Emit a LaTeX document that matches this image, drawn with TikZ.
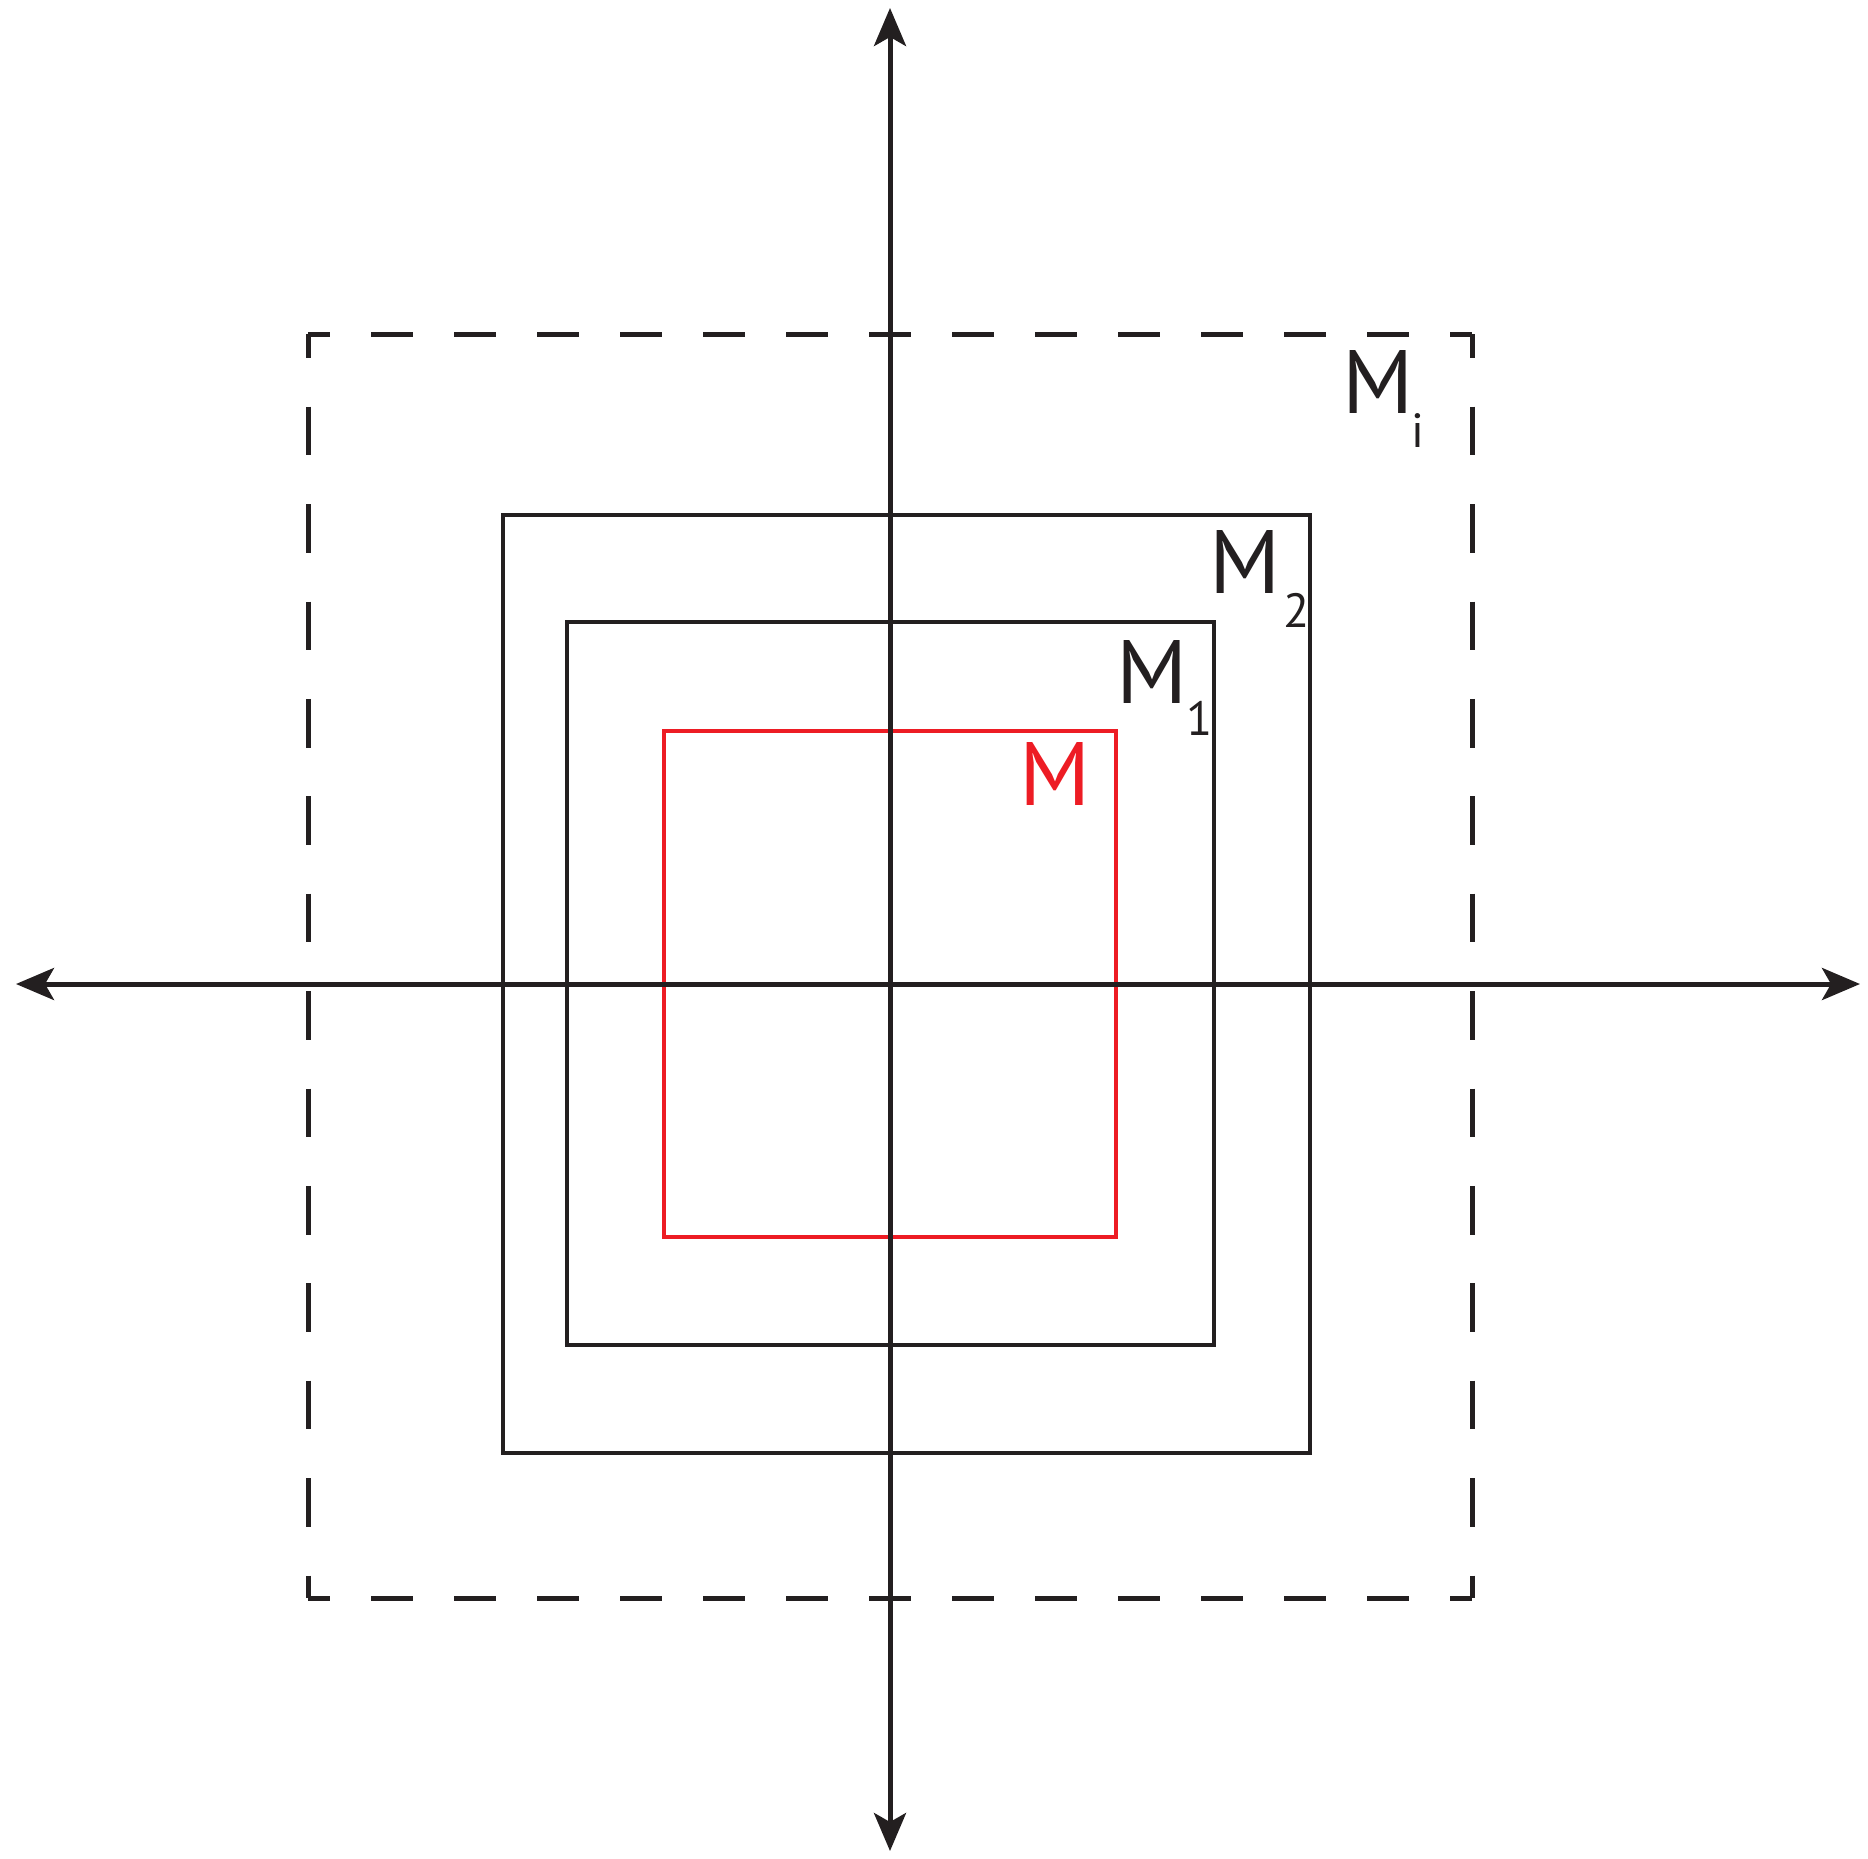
\documentclass[tikz,border=0pt]{standalone}
\usepackage{fontspec}
\setmainfont{PT Sans}
\usetikzlibrary{arrows.meta}
\definecolor{ink}{HTML}{231F20}
\definecolor{redink}{HTML}{ED1C24}
\tikzset{
  axis/.style={draw=ink, line width=5pt, {Stealth[length=38pt,width=32pt,inset=9pt]}-{Stealth[length=38pt,width=32pt,inset=9pt]}},
  box/.style={draw=ink, line width=4.6pt},
  hdash/.style={draw=ink, line width=5pt, dash pattern=on 42pt off 41pt, dash phase=20pt},
  vdash/.style={draw=ink, line width=5pt, dash pattern=on 48.7pt off 48.7pt, dash phase=24.7pt},
  redbox/.style={draw=redink, line width=4.2pt},
  lab/.style={inner sep=0pt, outer sep=0pt, font=\fontsize{90}{90}\selectfont, text=ink, anchor=base west},
  sublab/.style={inner sep=0pt, outer sep=0pt, font=\fontsize{48}{48}\selectfont, text=ink, anchor=base west},
}
\begin{document}
\begin{tikzpicture}[x=1pt,y=-1pt]
\useasboundingbox (0,0) rectangle (1868,1858);
% axes end points
\coordinate (top) at (890,8);
\coordinate (bot) at (890,1851);
\coordinate (lft) at (16,984);
\coordinate (rgt) at (1860,984);
% dashed rectangle corners
\coordinate (dtl) at (308,334);
\coordinate (dtr) at (1472,334);
\coordinate (dbl) at (308,1598);
\coordinate (dbr) at (1472,1598);
\draw[hdash] (dtl) -- (dtr);
\draw[hdash] (dbl) -- (dbr);
\draw[vdash] (dtl) -- (dbl);
\draw[vdash] (dtr) -- (dbr);
% solid rectangles
\draw[box] (503,515) rectangle (1310,1453);
\draw[box] (567,622) rectangle (1214,1345);
\draw[redbox] (664,731) rectangle (1116,1237);
% axes
\draw[axis] (bot) -- (top);
\draw[axis] (lft) -- (rgt);
% labels
\node[lab] (mi) at (1342,413) {M};
\node[sublab] (mis) at (1411,447) {i};
\node[lab] (m2) at (1209,593) {M};
\node[sublab] (m2s) at (1283,627) {2};
\node[lab] (m1) at (1116,703) {M};
\node[sublab] (m1s) at (1186,735) {1};
\node[lab, text=redink] (m) at (1019,805) {M};
\end{tikzpicture}
\end{document}
